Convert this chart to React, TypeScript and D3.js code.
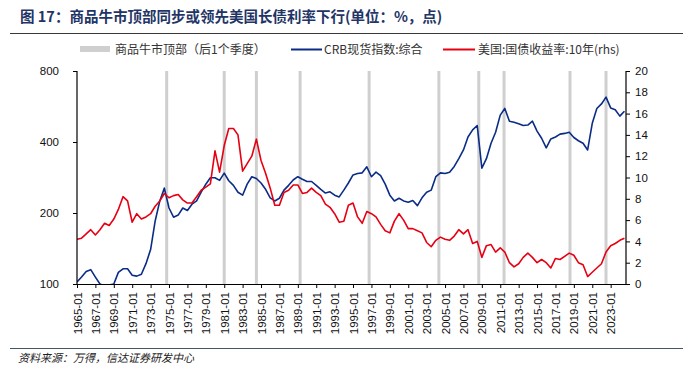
import React, { useEffect, useRef } from "react";
import * as d3 from "d3";

// semiannual samples (Jan / Jul), 1965-01 .. 2024-07
const startYear = 1965;
const crbIndex = [
  102, 107, 113, 115, 107, 100, 98, 99, 100, 112,
  116, 116, 109, 108, 110, 122, 140, 185, 225, 255,
  210, 192, 196, 210, 205, 218, 225, 245, 265, 282,
  282, 275, 295, 274, 262, 245, 238, 265, 285, 280,
  268, 252, 232, 225, 231, 250, 262, 276, 285, 278,
  272, 272, 262, 252, 243, 246, 238, 234, 250, 268,
  290, 294, 296, 314, 285, 298, 288, 265, 238, 225,
  231, 225, 222, 226, 215, 232, 245, 250, 285, 296,
  294, 298, 315, 340, 370, 420, 450, 470, 310, 340,
  395, 440, 520, 555, 490, 485, 478, 470, 472, 490,
  445, 415, 378, 412, 420, 432, 435, 440, 418, 405,
  395, 370, 480, 555, 580, 620, 558, 548, 515, 540,
];
const ust10y = [
  4.2, 4.3, 4.7, 5.1, 4.6, 5.1, 5.7, 5.5, 6.1, 7.0,
  8.2, 7.8, 5.8, 6.6, 6.1, 6.3, 6.6, 7.3, 7.8, 8.5,
  8.1, 8.3, 8.4, 7.9, 7.6, 7.6, 8.2, 8.8, 9.1, 9.4,
  12.5, 10.5, 13.0, 14.6, 14.6, 14.0, 10.6, 11.3, 12.0, 13.6,
  11.6, 10.4, 9.0, 7.4, 7.4, 8.6, 8.8, 9.3, 9.3, 8.5,
  8.6, 9.0, 8.6, 8.3, 7.5, 7.2, 6.6, 5.8, 5.9, 7.4,
  7.6, 6.3, 5.7, 6.8, 6.6, 6.3, 5.6, 5.0, 4.8, 5.9,
  6.6, 6.0, 5.2, 5.2, 5.0, 4.8, 3.9, 3.5, 4.1, 4.4,
  4.2, 4.1, 4.5, 5.1, 4.7, 5.1, 3.8, 4.0, 2.5, 3.6,
  3.7, 3.0, 3.4, 3.0, 2.0, 1.6, 1.9, 2.5, 2.9, 2.5,
  2.0, 2.3, 2.0, 1.5, 2.4, 2.3, 2.6, 2.9, 2.7, 2.0,
  1.8, 0.7, 1.1, 1.5, 1.9, 3.0, 3.6, 3.8, 4.1, 4.3,
];
// commodity bull-market tops (one quarter later)
const peakMonths = [
  "1974-10", "1981-01", "1984-07", "1989-04", "1996-10",
  "2004-05", "2008-09", "2011-06", "2018-08", "2022-07",
];
const tickYears = d3.range(1965, 2024, 2);
const leftTicks = [100, 200, 400, 800];
const rightTicks = [0, 2, 4, 6, 8, 10, 12, 14, 16, 18, 20];

const BLUE = "#0a2c86";
const RED = "#e60012";
const GREY = "#cfcfcf";

export default function App() {
  const ref = useRef<SVGSVGElement>(null);

  useEffect(() => {
    const svg = d3.select(ref.current);
    svg.selectAll("*").remove();

    const left = 77, right = 626, top = 71, bottom = 284;
    const parse = d3.timeParse("%Y-%m");
    const dates = crbIndex.map((_, i) => new Date(startYear + Math.floor(i / 2), (i % 2) * 6, 1));

    const x = d3.scaleTime()
      .domain([new Date(1965, 0, 1), new Date(2024, 8, 1)])
      .range([left, right]);
    const yL = d3.scaleLog().domain([100, 800]).range([bottom, top]);
    const yR = d3.scaleLinear().domain([0, 20]).range([bottom, top]);

    // title + rules
    svg.append("text")
      .attr("x", 20).attr("y", 22)
      .attr("font-family", "'Noto Sans CJK SC', sans-serif")
      .attr("font-size", 14.5).attr("font-weight", "bold")
      .attr("fill", "#1f3566")
      .text("图 17：商品牛市顶部同步或领先美国长债利率下行(单位：%，点)");
    svg.append("line").attr("x1", 10).attr("x2", 683).attr("y1", 33.5).attr("y2", 33.5)
      .attr("stroke", "#3a3a3a").attr("stroke-width", 1);
    svg.append("line").attr("x1", 10).attr("x2", 683).attr("y1", 348.5).attr("y2", 348.5)
      .attr("stroke", "#44546a").attr("stroke-width", 1);
    svg.append("text")
      .attr("x", 18).attr("y", 362)
      .attr("font-family", "'Noto Sans CJK SC', sans-serif")
      .attr("font-size", 11).attr("font-style", "italic")
      .attr("fill", "#222")
      .text("资料来源：万得，信达证券研发中心");

    // legend
    const lg = svg.append("g")
      .attr("font-family", "'Noto Sans CJK SC', sans-serif")
      .attr("font-size", 12).attr("fill", "#333");
    lg.append("rect").attr("x", 80).attr("y", 46).attr("width", 30).attr("height", 6).attr("fill", GREY);
    lg.append("text").attr("x", 115).attr("y", 54).text("商品牛市顶部（后1个季度）");
    lg.append("line").attr("x1", 291).attr("x2", 322).attr("y1", 49.5).attr("y2", 49.5)
      .attr("stroke", BLUE).attr("stroke-width", 2);
    lg.append("text").attr("x", 324).attr("y", 54).text("CRB现货指数:综合");
    lg.append("line").attr("x1", 443).attr("x2", 475).attr("y1", 49.5).attr("y2", 49.5)
      .attr("stroke", RED).attr("stroke-width", 2);
    lg.append("text").attr("x", 478).attr("y", 54).text("美国:国债收益率:10年(rhs)");

    // peak bars
    svg.append("g").selectAll("rect")
      .data(peakMonths)
      .join("rect")
      .attr("x", d => x(parse(d) as Date) - 1.5)
      .attr("y", top)
      .attr("width", 3)
      .attr("height", bottom - top)
      .attr("fill", GREY);

    svg.append("defs").append("clipPath").attr("id", "plotclip")
      .append("rect").attr("x", left).attr("y", top).attr("width", right - left).attr("height", bottom - top);

    const lines = svg.append("g").attr("clip-path", "url(#plotclip)");
    const lineL = d3.line<number>().x((_, i) => x(dates[i])).y(d => yL(d));
    const lineR = d3.line<number>().x((_, i) => x(dates[i])).y(d => yR(d));
    lines.append("path").datum(crbIndex).attr("d", lineL)
      .attr("fill", "none").attr("stroke", BLUE).attr("stroke-width", 1.6).attr("stroke-linejoin", "round");
    lines.append("path").datum(ust10y).attr("d", lineR)
      .attr("fill", "none").attr("stroke", RED).attr("stroke-width", 1.6).attr("stroke-linejoin", "round");

    // axes
    const font = "'Liberation Sans', Arial, sans-serif";
    const gl = svg.append("g").attr("transform", `translate(${left},0)`)
      .call(d3.axisLeft(yL).tickValues(leftTicks).tickFormat(d3.format("d")).tickSize(4).tickPadding(14));
    const gr = svg.append("g").attr("transform", `translate(${right},0)`)
      .call(d3.axisRight(yR).tickValues(rightTicks).tickSize(4).tickPadding(5));
    const gx = svg.append("g").attr("transform", `translate(0,${bottom})`)
      .call(d3.axisBottom(x)
        .tickValues(tickYears.map(yr => new Date(yr, 0, 1)))
        .tickFormat(d3.timeFormat("%Y-%m") as any)
        .tickSize(4).tickSizeOuter(0));
    gx.selectAll("text")
      .attr("transform", "rotate(-90)")
      .attr("text-anchor", "end")
      .attr("x", -8).attr("y", 0).attr("dy", "0.35em");
    [gl, gr, gx].forEach(g => {
      g.selectAll("text").attr("font-family", font).attr("font-size", 11.5).attr("fill", "#111");
      g.selectAll("path, line").attr("stroke", "#000");
      g.select(".domain").attr("stroke-width", 1.2);
    });
    gl.select(".domain").attr("d", `M0,${top}V${bottom}`);
    gr.select(".domain").attr("d", `M0,${top}V${bottom}`);
  }, []);

  return (
    <svg ref={ref} width={683} height={368}
      style={{ position: "absolute", left: 0, top: 0, background: "#fff" }} />
  );
}
